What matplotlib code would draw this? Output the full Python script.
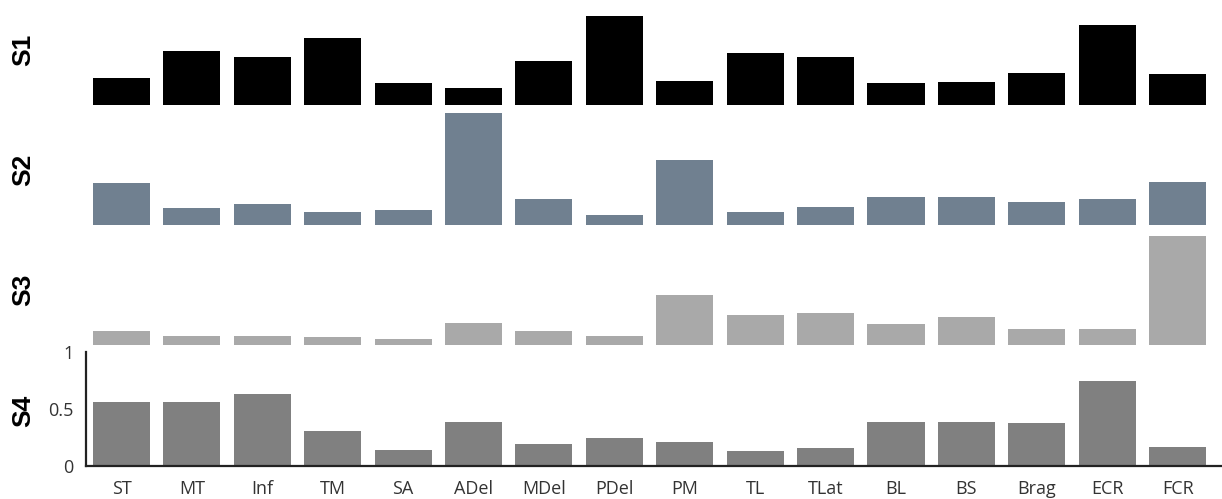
import matplotlib
matplotlib.use("Agg")
import matplotlib.pyplot as plt

# muscle names
muscles = ['ST', 'MT', 'Inf', 'TM', 'SA', 'ADel', 'MDel', 'PDel', 'PM', 'TL',
           'TLat', 'BL', 'BS', 'Brag', 'ECR', 'FCR']

# synergy weights
s1 = [0.24, 0.47, 0.42, 0.59, 0.19, 0.15, 0.39, 0.78, 0.21, 0.46,
      0.42, 0.19, 0.20, 0.28, 0.70, 0.27]
s2 = [0.37, 0.15, 0.18, 0.11, 0.13, 0.98, 0.23, 0.09, 0.57, 0.11,
      0.16, 0.25, 0.25, 0.20, 0.23, 0.38]
s3 = [0.12, 0.08, 0.08, 0.07, 0.05, 0.19, 0.12, 0.08, 0.44, 0.26,
      0.28, 0.18, 0.25, 0.14, 0.14, 0.96]
s4 = [0.56, 0.56, 0.63, 0.31, 0.14, 0.39, 0.19, 0.25, 0.21, 0.13,
      0.16, 0.39, 0.39, 0.38, 0.75, 0.17]

rows = [('S1', s1, '#000000'), ('S2', s2, '#708090'),
        ('S3', s3, '#a9a9a9'), ('S4', s4, '#808080')]

W, H = 1222, 499
fig = plt.figure(figsize=(W / 100, H / 100), dpi=100)

# baseline of each row in pixels from the top, 114 px per unit
baselines = [105, 225, 345, 466]
unit = 114
left, right = 86, 1222
x = list(range(len(muscles)))

for (name, vals, col), base in zip(rows, baselines):
    ax = fig.add_axes([left / W, (H - base) / H, (right - left) / W, unit / H])
    ax.bar(x, vals, width=0.81, color=col)
    ax.set_xlim(-0.504, 15.63)
    ax.set_ylim(0, 1)
    ax.patch.set_visible(False)
    for s in ax.spines.values():
        s.set_visible(False)
    if name == 'S4':
        for side in ('left', 'bottom'):
            ax.spines[side].set_visible(True)
            ax.spines[side].set_linewidth(1.6)
            ax.spines[side].set_color('#222222')
        ax.set_yticks([0, 0.5, 1])
        ax.set_yticklabels(['0', '0.5', '1'], family='Open Sans', fontsize=13,
                           color='#333333')
        ax.set_xticks(x)
        ax.set_xticklabels(muscles, family='Open Sans', fontsize=13,
                           color='#333333')
        ax.tick_params(length=0, pad=9)
        ax.tick_params(axis='x', pad=10)
    else:
        ax.set_xticks([])
        ax.set_yticks([])
    fig.text(23 / W, (H - base + 55) / H, name, rotation=90,
             ha='center', va='center', fontsize=19, fontweight='bold',
             family='Liberation Sans')

fig.savefig('out.png', dpi=100)
